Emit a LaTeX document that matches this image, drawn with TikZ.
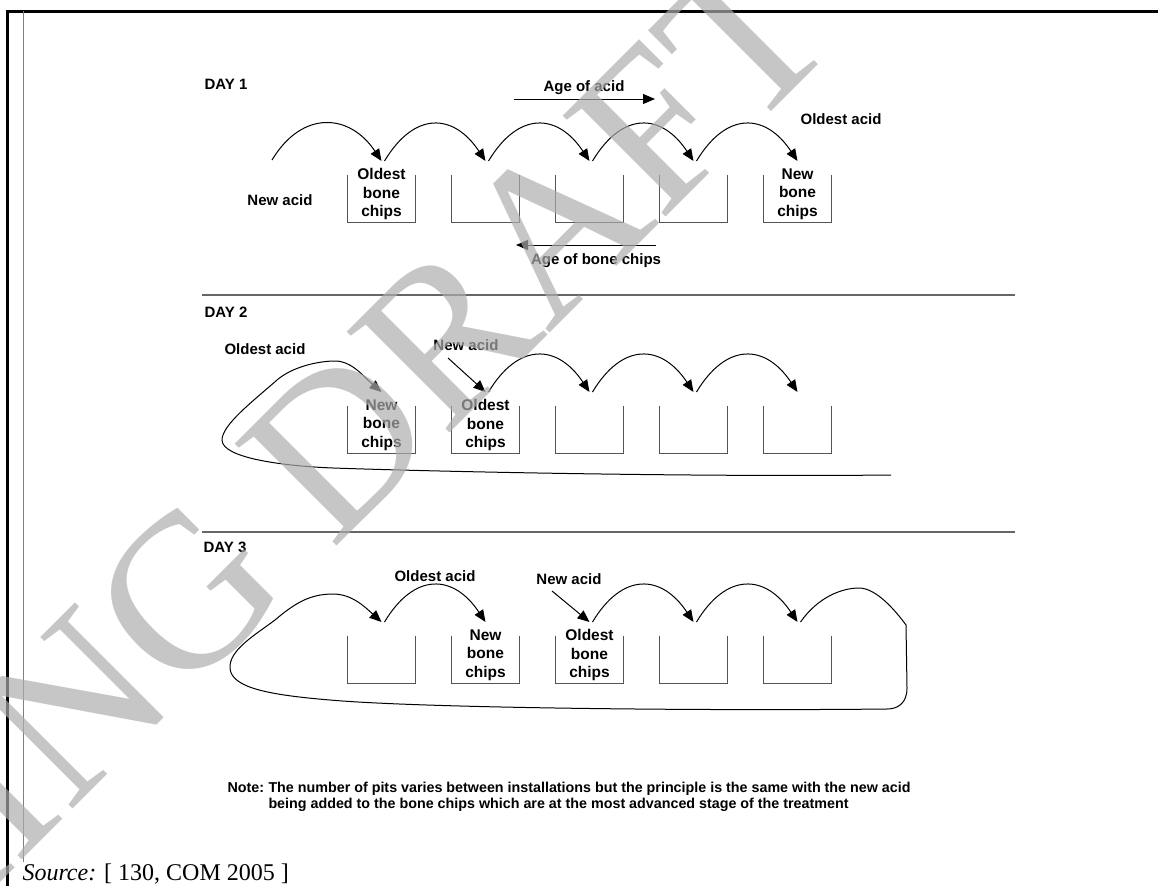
\documentclass[tikz,border=0pt]{standalone}
\usepackage{fontspec}
\setmainfont{Liberation Serif}
\newfontfamily\arialfont{Liberation Sans}
\usepackage{tikz}
\usetikzlibrary{arrows.meta}
\tikzset{every picture/.style={line width=1pt}}
\definecolor{pitgray}{rgb}{0.33,0.33,0.33}
\definecolor{rulegray}{rgb}{0.40,0.40,0.40}
\definecolor{wmgray}{rgb}{0.68,0.68,0.68}

\begin{document}
\begin{tikzpicture}[
    x=1pt, y=-1pt,
    lbl/.style={font=\arialfont\bfseries\fontsize{15}{18}\selectfont, inner sep=0pt},
    pitlbl/.style={font=\arialfont\bfseries\fontsize{15.5}{18.5}\selectfont,
        align=center, inner sep=0pt},
    notefont/.style={font=\arialfont\bfseries\fontsize{14.3}{16}\selectfont,
        inner sep=0pt, anchor=base west},
    pit/.style={minimum width=67pt, minimum height=47pt, inner sep=0pt},
    pitwall/.style={draw=pitgray, line width=1.8pt},
    hop/.style={-{Triangle[length=12pt,width=10pt]}, line width=1pt},
    sepline/.style={draw=rulegray, line width=1.6pt},
]

\def\S{104}    % pit spacing
\def\D{47}     % pit depth
\def\X{381.5}  % centre of first pit

%% ===================== PAGE =====================
\fill[white, use as bounding box] (0,0) rectangle (1158,886);
\draw[line width=3pt] (7,886) -- (7,11) -- (1158,11);
\draw[gray, line width=0.8pt] (23,11) -- (23,862);

%% ===================== PITS (one row per day) =====================
\foreach \d/\top in {1/175, 2/406, 3/636} {
  \foreach \i in {1,...,5} {
    \pgfmathsetmacro{\cx}{\X+(\i-1)*\S}
    \pgfmathsetmacro{\cy}{\top+\D/2}
    \pgfmathsetmacro{\ay}{\top-14}
    \pgfmathsetmacro{\bx}{\cx+3}
    \node[pit] (p\d\i) at (\cx,\cy) {};
    \draw[pitwall] (p\d\i.north west) -- (p\d\i.south west)
      -- (p\d\i.south east) -- (p\d\i.north east);
    \coordinate (in\d\i) at (\cx,\ay);
    \coordinate (out\d\i) at (\bx,\ay);
  }
}

%% section rules
\draw[sepline] (202,295) -- (1015,295);
\draw[sepline] (202,532) -- (1015,532);

%% ===================== HOPS between pits =====================
\foreach \d/\a/\b in {1/1/2, 1/2/3, 1/3/4, 1/4/5,
                      2/2/3, 2/3/4, 2/4/5,
                      3/1/2, 3/3/4, 3/4/5} {
  \draw[hop] (out\d\a) .. controls +(30,-50) and +(-32,-48) .. (in\d\b);
}

%% ===================== DAY 1 =====================
\node[lbl] (day1) at (226,84) {DAY 1};
\node[lbl] (newacid1) at (280,200) {New acid};
\node[lbl] (oldacid1) at (841,119) {Oldest acid};
\node[pitlbl, yshift=4.5pt] (chips11) at (p11) {Oldest\\bone\\chips};
\node[pitlbl, yshift=4.5pt] (chips15) at (p15) {New\\bone\\chips};

\coordinate (start1) at (272,160);
\draw[hop] (start1) .. controls +(30,-50) and +(-32,-48) .. (in11);

% age arrows
\node[lbl] (ageacid) at (584,88) {Age of acid};
\coordinate (aa0) at (514,99);
\coordinate (aa1) at (655,99);
\draw[hop] (aa0) -- (aa1);

\node[lbl] (agebone) at (596,261) {Age of bone chips};
\coordinate (ab0) at (656,245);
\coordinate (ab1) at (516,245);
\draw[hop] (ab0) -- (ab1);

%% ===================== DAY 2 =====================
\node[lbl] (day2) at (226,312) {DAY 2};
\node[lbl] (oldacid2) at (265,349) {Oldest acid};
\node[lbl] (newacid2) at (466,345) {New acid};
\node[pitlbl, yshift=4.5pt] (chips21) at (p21) {New\\bone\\chips};
\node[pitlbl, yshift=4.5pt] (chips22) at (p22) {Oldest\\bone\\chips};

\coordinate (na2) at (448,358);
\draw[hop] (na2) -- (in22);

% oldest acid comes back round to the new chips
\coordinate (loop2) at (891,475);
\draw[hop] (loop2) .. controls (700,477) and (450,472) .. (333,468)
  .. controls (283,466) and (222,458) .. (222,440)
  .. controls (222,425) and (252,402) .. (277,380)
  .. controls (292,367) and (318,361) .. (335,361)
  .. controls (352,361) and (364,377) .. (in21);

%% ===================== DAY 3 =====================
\node[lbl] (day3) at (225,547) {DAY 3};
\node[lbl] (oldacid3) at (435,576) {Oldest acid};
\node[lbl] (newacid3) at (569,579) {New acid};
\node[pitlbl, yshift=4.5pt] (chips32) at (p32) {New\\bone\\chips};
\node[pitlbl, yshift=4.5pt] (chips33) at (p33) {Oldest\\bone\\chips};

\coordinate (na3) at (552,591);
\draw[hop] (na3) -- (in33);

\draw[hop] (out35) .. controls (818,597) and (842,588) .. (859,588)
  .. controls (876,588) and (895,610) .. (906,625)
  -- (907,688) .. controls (907,703) and (898,709) .. (887,709)
  .. controls (700,711) and (420,708) .. (330,700)
  .. controls (270,695) and (231,688) .. (230,668)
  .. controls (229,650) and (255,635) .. (275,620)
  .. controls (295,603) and (310,594) .. (333,594)
  .. controls (352,594) and (365,607) .. (in31);

%% ===================== NOTE / SOURCE =====================
\node[notefont] (notehd) at (227,792) {Note:};
\node[notefont] (note1) at (268,792)
  {The number of pits varies between installations but the principle is the same with the new acid};
\node[notefont] (note2) at (268,808.5)
  {being added to the bone chips which are at the most advanced stage of the treatment};

\node[anchor=base west, inner sep=0pt, font=\fontsize{24}{24}\selectfont] (src) at (22,880)
  {\textit{Source:} [ 130, COM 2005 ]};

%% ===================== WATERMARK =====================
\node[font=\fontsize{220}{220}\selectfont, text=wmgray, text opacity=0.69, rotate=45]
  (wm) at (656,126) {WORKING DRAFT IN PROGRESS};

\end{tikzpicture}
\end{document}
